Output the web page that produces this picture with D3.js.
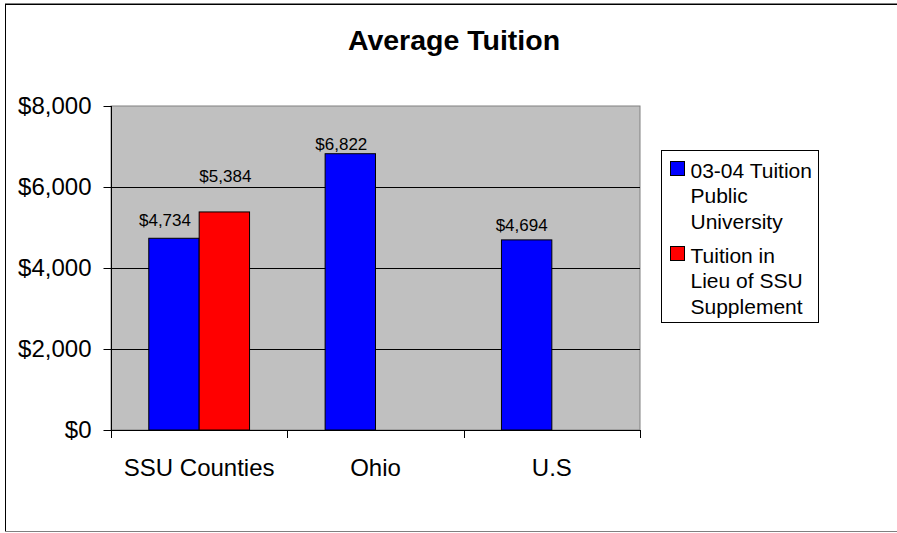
<!DOCTYPE html>
<html>
<head>
<meta charset="utf-8">
<script src="https://cdn.jsdelivr.net/npm/d3@7"></script>
<style>
  body { margin: 0; background: #fff; }
  text { font-family: 'Liberation Sans', Arial, sans-serif; fill: #000; }
</style>
</head>
<body>
<div class="chart-container"></div>
<script>
const WIDTH = 897;
const HEIGHT = 533;

const categories = ['SSU Counties', 'Ohio', 'U.S'];
const seriesNames = ['03-04 Tuition Public University', 'Tuition in Lieu of SSU Supplement'];
const publicTuition = [4734, 6822, 4694];
const supplementTuition = [5384, null, null];
const yTicks = [0, 2000, 4000, 6000, 8000];
const legendLines = [['03-04 Tuition', 'Public', 'University'], ['Tuition in', 'Lieu of SSU', 'Supplement']];
const colors = ['#0000ff', '#ff0000'];

// hand-placed label nudges (dx, dy) like the original sheet
const labelNudge = [
  [[-9, -12], [1, -30]],
  [[-9, -4], [0, -8]],
  [[-5, -9], [0, -8]],
];

const plot = { left: 111, right: 640, top: 106, bottom: 430 };

const svg = d3.select('.chart-container')
  .append('svg')
  .attr('width', WIDTH)
  .attr('height', HEIGHT);

// outer frame
svg.append('rect')
  .attr('x', 5.5)
  .attr('y', 4.5)
  .attr('width', 900)
  .attr('height', 527)
  .style('fill', '#fff')
  .style('stroke', '#000');
svg.append('line')
  .attr('x1', 5).attr('x2', WIDTH)
  .attr('y1', 3.5).attr('y2', 3.5)
  .style('stroke', '#808080');
svg.append('line')
  .attr('x1', 5).attr('x2', WIDTH)
  .attr('y1', 531.5).attr('y2', 531.5)
  .style('stroke', '#808080');

// title
svg.append('text')
  .attr('x', 454)
  .attr('y', 50)
  .attr('text-anchor', 'middle')
  .style('font-size', '28.5px')
  .style('font-weight', 'bold')
  .text('Average Tuition');

const x = d3.scaleBand().domain(categories).range([plot.left, plot.right]).paddingInner(0).paddingOuter(0);
const xSub = d3.scaleBand().domain([0, 1]).range([0, x.bandwidth()]).paddingInner(0).paddingOuter(0.75);
const y = d3.scaleLinear().domain([0, 8000]).range([plot.bottom, plot.top]);

// plot area
svg.append('rect')
  .attr('x', plot.left)
  .attr('y', plot.top)
  .attr('width', plot.right - plot.left)
  .attr('height', plot.bottom - plot.top)
  .style('fill', '#c0c0c0')
  .style('stroke', '#808080');

// gridlines
svg.append('g')
  .selectAll('line')
  .data(yTicks.filter((t) => t > 0 && t < 8000))
  .enter()
  .append('line')
  .attr('x1', plot.left)
  .attr('x2', plot.right)
  .attr('y1', (d) => Math.round(y(d)) + 0.5)
  .attr('y2', (d) => Math.round(y(d)) + 0.5)
  .style('stroke', '#000');

// bars
const barData = [];
categories.forEach((c, i) => {
  [publicTuition[i], supplementTuition[i]].forEach((v, s) => {
    if (v !== null) barData.push({ category: c, ci: i, series: s, value: v });
  });
});

svg.append('g')
  .selectAll('rect')
  .data(barData)
  .enter()
  .append('rect')
  .attr('x', (d) => x(d.category) + xSub(d.series))
  .attr('y', (d) => y(d.value))
  .attr('width', xSub.bandwidth())
  .attr('height', (d) => y(0) - y(d.value))
  .style('fill', (d) => colors[d.series])
  .style('stroke', '#000')
  .style('stroke-width', 1);

// value labels
svg.append('g')
  .selectAll('text')
  .data(barData)
  .enter()
  .append('text')
  .attr('x', (d) => x(d.category) + xSub(d.series) + xSub.bandwidth() / 2 + labelNudge[d.ci][d.series][0])
  .attr('y', (d) => y(d.value) + labelNudge[d.ci][d.series][1])
  .attr('text-anchor', 'middle')
  .style('font-size', '17px')
  .text((d) => d3.format('$,')(d.value));

// y axis
const yAxis = d3.axisLeft(y)
  .tickValues(yTicks)
  .tickSize(8)
  .tickPadding(12)
  .tickFormat(d3.format('$,'));
const yg = svg.append('g')
  .attr('transform', `translate(${plot.left + 0.5},0)`)
  .call(yAxis);
yg.select('.domain').remove();
yg.selectAll('.tick line').style('stroke', '#000');
yg.selectAll('.tick text')
  .style('font-size', '24px')
  .style('font-family', "'Liberation Sans', Arial, sans-serif");

svg.append('line')
  .attr('x1', plot.left + 0.5).attr('x2', plot.left + 0.5)
  .attr('y1', plot.top).attr('y2', plot.bottom + 8)
  .style('stroke', '#000');

// x axis
svg.append('line')
  .attr('x1', plot.left).attr('x2', plot.right)
  .attr('y1', plot.bottom + 0.5).attr('y2', plot.bottom + 0.5)
  .style('stroke', '#000');

svg.append('g')
  .selectAll('line')
  .data(categories.slice(1).concat(['end']))
  .enter()
  .append('line')
  .attr('x1', (d, i) => Math.round(plot.left + x.step() * (i + 1)) + 0.5)
  .attr('x2', (d, i) => Math.round(plot.left + x.step() * (i + 1)) + 0.5)
  .attr('y1', plot.bottom)
  .attr('y2', plot.bottom + 8)
  .style('stroke', '#000');

svg.append('g')
  .selectAll('text')
  .data(categories)
  .enter()
  .append('text')
  .attr('x', (d) => x(d) + x.bandwidth() / 2)
  .attr('y', 476)
  .attr('text-anchor', 'middle')
  .style('font-size', '24px')
  .text((d) => d);

// legend
const legend = svg.append('g').attr('transform', 'translate(661.5,150.5)');
legend.append('rect')
  .attr('width', 157)
  .attr('height', 172)
  .style('fill', '#fff')
  .style('stroke', '#000');

seriesNames.forEach((name, s) => {
  const top = s === 0 ? 11 : 96;
  legend.append('rect')
    .attr('x', 9)
    .attr('y', top)
    .attr('width', 14)
    .attr('height', 14)
    .style('fill', colors[s])
    .style('stroke', '#000');
  legend.append('text')
    .attr('x', 29)
    .attr('y', top + 16)
    .style('font-size', '21px')
    .selectAll('tspan')
    .data(legendLines[s])
    .enter()
    .append('tspan')
    .attr('x', 29)
    .attr('dy', (d, i) => (i === 0 ? 0 : 25.6))
    .text((d) => d);
});
</script>
</body>
</html>
